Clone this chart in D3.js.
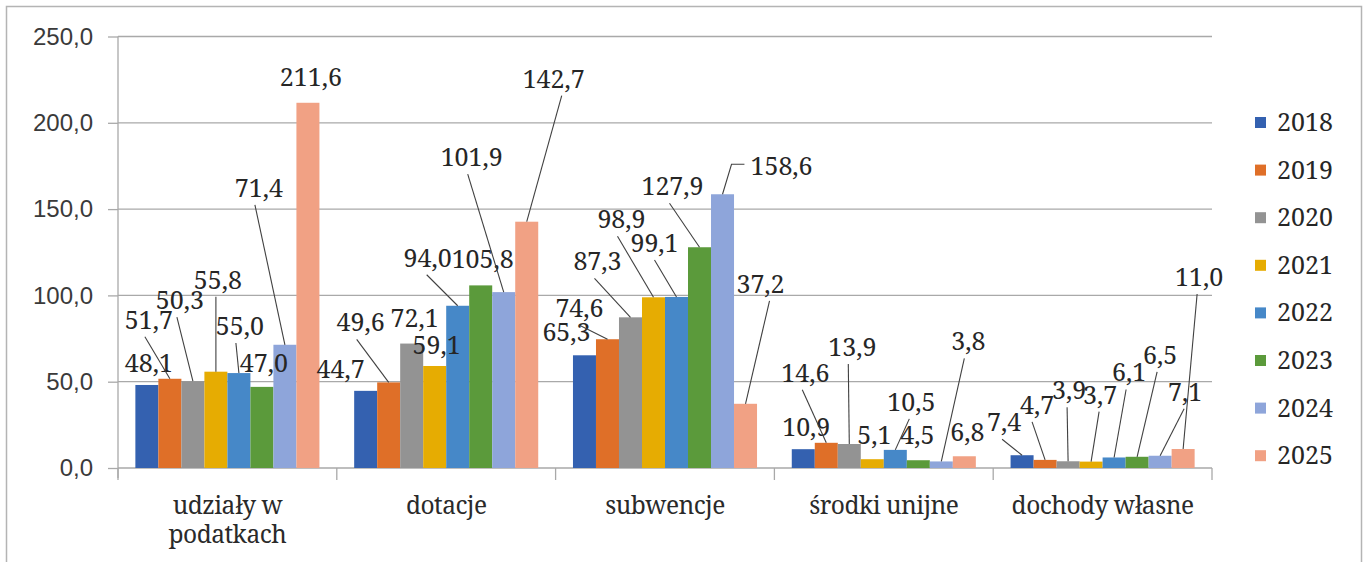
<!DOCTYPE html>
<html><head><meta charset="utf-8">
<script src="https://cdn.jsdelivr.net/npm/d3@7"></script>
<style>html,body{margin:0;padding:0;background:#fff;}svg{display:block;}</style>
</head><body>
<svg id="chart" width="1371" height="562"></svg>
<script>
// ---- data ----
const categories = ["udziały w|podatkach", "dotacje", "subwencje", "środki unijne", "dochody własne"];
const years = ["2018", "2019", "2020", "2021", "2022", "2023", "2024", "2025"];
const v2018 = [48.1, 44.7, 65.3, 10.9, 7.4];
const v2019 = [51.7, 49.6, 74.6, 14.6, 4.7];
const v2020 = [50.3, 72.1, 87.3, 13.9, 3.9];
const v2021 = [55.8, 59.1, 98.9, 5.1, 3.7];
const v2022 = [55.0, 94.0, 99.1, 10.5, 6.1];
const v2023 = [47.0, 105.8, 127.9, 4.5, 6.5];
const v2024 = [71.4, 101.9, 158.6, 3.8, 7.1];
const v2025 = [211.6, 142.7, 37.2, 6.8, 11.0];
const yTicks = [0, 50, 100, 150, 200, 250];

// ---- style / layout ----
const colors = ["#3461b0", "#df6f28", "#939393", "#e6ac02", "#4688c8", "#5b9a3b", "#8ea5da", "#f1a184"];
// label placement relative to bar top: [dx, dy, leader-line start dx | null | "elbow"]
const labelLayout = [
  [[2,-22,null],[-21,-59,-4],[-13,-81,-3],[2,-92,-2],[1,-47,-4],[2,-24,null],[-26,-157,-4],[3,-26,null]],
  [[-25,-22,null],[-28,-60,-4],[3,-26,null],[2,-21,null],[-30,-48,-1],[2,-26,null],[-32,-135,-4],[27,-143,8]],
  [[-18,-23,null],[-28,-31,0],[-33,-56,-3],[-32,-78,-4],[-22,-54,0],[-27,-61,-3],[59,-28,"elbow"],[15,-120,9]],
  [[3,-22,null],[-21,-70,-3],[3,-97,-4],[2,-24,null],[16,-48,-2],[-1,-25,null],[27,-120,-4],[3,-24,null]],
  [[-18,-33,-2],[-8,-55,-5],[1,-71,-2],[9,-67,-1],[15,-85,-3],[23,-102,-3],[25,-64,-1],[16,-172,-2]]
];

const series = [v2018, v2019, v2020, v2021, v2022, v2023, v2024, v2025];
const svg = d3.select("#chart");
const plot = {left: 118, right: 1212, top: 36.5, bottom: 468};
const gridColor = "#a9a9a9";
const serif = "Noto Serif";
const sans = "Liberation Sans";
const fmt = v => d3.format(".1f")(v).replace(".", ",");

// outer border
svg.append("rect").attr("x", 6.5).attr("y", 6.5).attr("width", 1355).attr("height", 620)
  .attr("fill", "#fff").attr("stroke", "#b4b4b4").attr("stroke-width", 1.5);

const x0 = d3.scaleBand().domain(categories).range([plot.left, plot.right]).padding(0);
const x1 = d3.scaleBand().domain(years).range([0, x0.bandwidth()]).paddingInner(0).paddingOuter(0.755);
const y = d3.scaleLinear().domain([0, 250]).range([plot.bottom, plot.top]);

// gridlines
svg.append("g").selectAll("line").data(yTicks.filter(t => t > 0)).join("line")
  .attr("x1", plot.left).attr("x2", plot.right)
  .attr("y1", d => y(d)).attr("y2", d => y(d))
  .attr("stroke", gridColor).attr("stroke-width", 1.3);

// y axis
const yAxis = d3.axisLeft(y).tickValues(yTicks).tickSize(10).tickPadding(15).tickFormat(fmt);
const gy = svg.append("g").attr("transform", `translate(${plot.left},0)`).call(yAxis);
gy.attr("font-family", null).attr("font-size", null);
gy.select(".domain").attr("stroke", gridColor).attr("stroke-width", 1.3).attr("d", `M-0,${plot.top}V${plot.bottom + 10}`);
gy.selectAll(".tick line").attr("stroke", gridColor).attr("stroke-width", 1.3);
gy.selectAll(".tick text").style("font-family", sans).style("font-size", "24px").attr("fill", "#3a3a3a");

// x axis
const gx = svg.append("g").attr("transform", `translate(0,${plot.bottom})`);
gx.append("line").attr("x1", plot.left).attr("x2", plot.right).attr("stroke", gridColor).attr("stroke-width", 1.3);
const bounds = categories.map(c => x0(c)).concat([plot.right]);
gx.selectAll("line.tk").data(bounds).join("line").attr("class", "tk")
  .attr("x1", d => d).attr("x2", d => d).attr("y1", 0).attr("y2", 12)
  .attr("stroke", gridColor).attr("stroke-width", 1.3);
categories.forEach(c => {
  const lines = c.split("|");
  const t = gx.append("text").attr("x", x0(c) + x0.bandwidth() / 2).attr("y", 46)
    .attr("text-anchor", "middle").style("font-family", serif).style("font-size", "24.5px")
    .style("letter-spacing", "-0.5px").attr("fill", "#2a2a2a");
  lines.forEach((ln, i) => t.append("tspan").attr("x", x0(c) + x0.bandwidth() / 2).attr("dy", i === 0 ? 0 : 29).text(ln));
});

// bars
const barData = [];
categories.forEach((c, ci) => years.forEach((yr, yi) => barData.push({c, ci, yr, yi, v: series[yi][ci]})));
svg.append("g").selectAll("rect").data(barData).join("rect")
  .attr("x", d => x0(d.c) + x1(d.yr)).attr("width", x1.bandwidth())
  .attr("y", d => y(d.v)).attr("height", d => plot.bottom - y(d.v))
  .attr("fill", d => colors[d.yi]);

// labels + leader lines
const lg = svg.append("g");
barData.forEach(d => {
  const [dx, dy, sx] = labelLayout[d.ci][d.yi];
  const bx = x0(d.c) + x1(d.yr) + x1.bandwidth() / 2;
  const by = y(d.v);
  const lx = bx + dx, ly = by + dy;
  const t = lg.append("text").attr("x", lx).attr("y", ly + 9).attr("text-anchor", "middle")
    .style("font-family", serif).style("font-size", "25px").attr("fill", "#262626").text(fmt(d.v));
  if (sx === "elbow") {
    const w = t.node().getComputedTextLength();
    const left = lx - w / 2;
    lg.append("path").attr("d", `M${bx},${by}L${bx + 9},${ly - 2}L${left - 6},${ly - 2}`)
      .attr("fill", "none").attr("stroke", "#404040").attr("stroke-width", 1.1);
  } else if (sx !== null) {
    lg.append("line").attr("x1", lx + sx).attr("y1", ly + 17).attr("x2", bx).attr("y2", by)
      .attr("stroke", "#404040").attr("stroke-width", 1.1);
  }
});

// legend
const leg = svg.append("g");
years.forEach((yr, i) => {
  const cy = 122 + 47.6 * i;
  leg.append("rect").attr("x", 1255).attr("y", cy - 5).attr("width", 11).attr("height", 11).attr("fill", colors[i]);
  leg.append("text").attr("x", 1277).attr("y", cy + 9).style("font-family", serif).style("font-size", "25px")
    .attr("fill", "#262626").text(yr);
});
</script>
</body></html>
